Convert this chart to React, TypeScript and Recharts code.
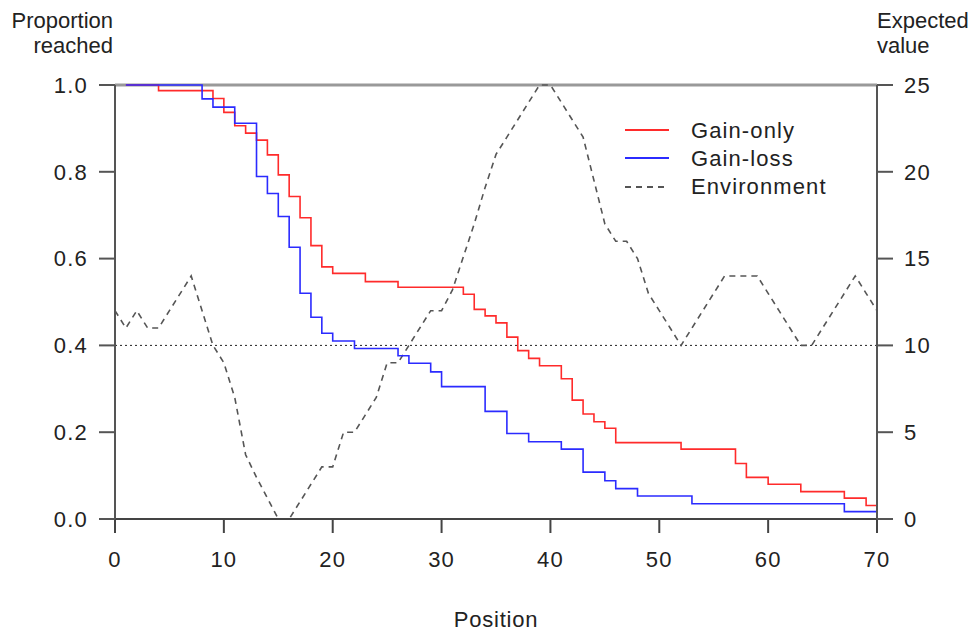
import { LineChart, Line, XAxis, YAxis, ReferenceLine } from "recharts";

const positionTicks = [0, 10, 20, 30, 40, 50, 60, 70];
const proportionTicks = [0, 0.2, 0.4, 0.6, 0.8, 1.0];
const expectedTicks = [0, 5, 10, 15, 20, 25];

// step change points for the two models (position where a new level starts)
const gainOnlyPos = [1, 4, 9, 10, 11, 12, 13, 14, 15, 16, 17, 18, 19, 20, 23, 26, 32, 33, 34, 35, 36, 37, 38, 39, 41, 42, 43, 44, 45, 46, 52, 57, 58, 60, 63, 67, 69, 70];
const gainOnlyVal = [1.0, 0.987, 0.969, 0.937, 0.906, 0.889, 0.873, 0.839, 0.793, 0.743, 0.694, 0.63, 0.581, 0.566, 0.547, 0.534, 0.518, 0.483, 0.468, 0.452, 0.419, 0.388, 0.37, 0.353, 0.323, 0.274, 0.242, 0.224, 0.209, 0.176, 0.161, 0.128, 0.096, 0.08, 0.063, 0.048, 0.031, 0.031];

const gainLossPos = [1, 8, 9, 11, 13, 14, 15, 16, 17, 18, 19, 20, 22, 26, 27, 29, 30, 34, 36, 38, 41, 43, 45, 46, 48, 53, 67, 70];
const gainLossVal = [1.0, 0.968, 0.949, 0.912, 0.789, 0.75, 0.697, 0.626, 0.52, 0.465, 0.428, 0.41, 0.393, 0.376, 0.359, 0.339, 0.305, 0.248, 0.197, 0.178, 0.161, 0.108, 0.088, 0.07, 0.053, 0.035, 0.017, 0.017];

// expected value of the environment at positions 0..70
const environmentVal = [
  12, 11, 12, 11, 11, 12, 13, 14, 12, 10,
  9, 7, 3.7, 2.4, 1.2, 0, 0, 1, 2, 3,
  3, 5, 5, 6, 7, 9, 9, 10, 11, 12,
  12, 13.2, 15.1, 17, 19.1, 21, 22, 23, 24, 25,
  25, 24, 23, 22, 19.5, 17, 16, 16, 15, 13,
  12, 11, 10, 11, 12, 13, 14, 14, 14, 14,
  13, 12, 11, 10, 10, 11, 12, 13, 14, 13,
  12,
];

const gainOnlyData = gainOnlyPos.map((x, i) => ({ x, v: gainOnlyVal[i] }));
const gainLossData = gainLossPos.map((x, i) => ({ x, v: gainLossVal[i] }));
const environmentData = environmentVal.map((v, x) => ({ x, v }));

const FONT = '"Liberation Sans", Arial, sans-serif';
const RED = "#ff2b2b";
const BLUE = "#2b2bff";
const ENV = "#555555";

const legendItems = [
  { label: "Gain-only", color: RED, dash: undefined },
  { label: "Gain-loss", color: BLUE, dash: undefined },
  { label: "Environment", color: ENV, dash: "6 5" },
];

const tickStyle = { fill: "#222", fontSize: 22, fontFamily: FONT, letterSpacing: 1.2 };
const textBox = {
  position: "absolute" as const,
  fontFamily: FONT,
  fontSize: 22,
  lineHeight: "25px",
  color: "#222",
  whiteSpace: "nowrap" as const,
};

export default function App() {
  return (
    <div style={{ position: "absolute", left: 0, top: 0, width: 974, height: 633, background: "#fff", overflow: "hidden" }}>
      <LineChart width={974} height={633} margin={{ top: 85, right: 0, bottom: 54, left: 0 }}>
        <XAxis
          type="number"
          dataKey="x"
          domain={[0, 70]}
          ticks={positionTicks}
          height={60}
          tickSize={14}
          tickMargin={18}
          stroke="#444"
          strokeWidth={2}
          tick={tickStyle}
        />
        <YAxis
          yAxisId="left"
          domain={[0, 1]}
          ticks={proportionTicks}
          width={115}
          tickSize={16}
          tickMargin={11}
          stroke="#555"
          strokeWidth={2}
          tick={tickStyle}
          tickFormatter={(v: number) => v.toFixed(1)}
        />
        <YAxis
          yAxisId="right"
          orientation="right"
          domain={[0, 25]}
          ticks={expectedTicks}
          width={97}
          tickSize={16}
          tickMargin={11}
          stroke="#555"
          strokeWidth={2}
          tick={tickStyle}
        />
        <ReferenceLine yAxisId="left" y={1} stroke="#999" strokeWidth={3} />
        <ReferenceLine yAxisId="left" y={0.4} stroke="#222" strokeDasharray="2 3" />
        <Line
          yAxisId="right"
          data={environmentData}
          dataKey="v"
          type="linear"
          stroke={ENV}
          strokeWidth={1.6}
          strokeDasharray="6 5"
          dot={false}
          isAnimationActive={false}
        />
        <Line
          yAxisId="left"
          data={gainOnlyData}
          dataKey="v"
          type="stepAfter"
          stroke={RED}
          strokeWidth={1.6}
          dot={false}
          isAnimationActive={false}
        />
        <Line
          yAxisId="left"
          data={gainLossData}
          dataKey="v"
          type="stepAfter"
          stroke={BLUE}
          strokeWidth={1.6}
          dot={false}
          isAnimationActive={false}
        />
      </LineChart>

      <div style={{ ...textBox, left: 625, top: 116, letterSpacing: 1.1 }}>
        {legendItems.map((item) => (
          <div key={item.label} style={{ display: "flex", alignItems: "center", height: 28.3 }}>
            <svg width={44} height={10} style={{ marginRight: 22 }}>
              <line x1={0} y1={5} x2={44} y2={5} stroke={item.color} strokeWidth={2} strokeDasharray={item.dash} />
            </svg>
            <span>{item.label}</span>
          </div>
        ))}
      </div>

      <div style={{ ...textBox, top: 8, right: 974 - 113, textAlign: "right" }}>
        Proportion
        <br />
        reached
      </div>
      <div style={{ ...textBox, top: 8, left: 877 }}>
        Expected
        <br />
        value
      </div>
      <div style={{ ...textBox, top: 607, left: 0, width: 992, textAlign: "center", letterSpacing: 0.8 }}>
        Position
      </div>
    </div>
  );
}
